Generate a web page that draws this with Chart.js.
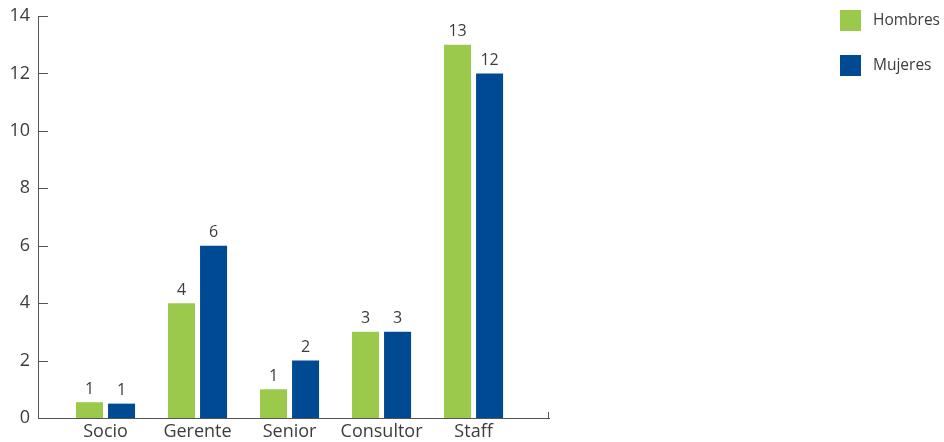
<!DOCTYPE html>
<html>
<head>
<meta charset="utf-8">
<script src="https://cdn.jsdelivr.net/npm/chart.js@4"></script>
<style>
  html, body { margin: 0; padding: 0; background: #fff; }
  #wrap { width: 944px; height: 442px; position: relative; }
</style>
</head>
<body>
<div id="wrap"><canvas id="chart"></canvas></div>
<script>
// --- data ---
const categories = ['Socio', 'Gerente', 'Senior', 'Consultor', 'Staff'];
const seriesNames = ['Hombres', 'Mujeres'];
// bar heights as drawn (Socio bars are drawn short in the original)
const hombresBars = [0.55, 4, 1, 3, 13];
const mujeresBars = [0.5, 6, 2, 3, 12];
// value labels printed above the bars
const hombresLabels = [1, 4, 1, 3, 13];
const mujeresLabels = [1, 6, 2, 3, 12];
const yTicks = [0, 2, 4, 6, 8, 10, 12, 14];

const GREEN = '#9bc94b';
const BLUE = '#004a93';
const TEXT = '#3c3c3c';
const AXIS = '#555555';
const FONT = '"Open Sans", "Noto Sans", sans-serif';

// value labels on top of each bar
const valueLabels = {
    id: 'valueLabels',
    afterDatasetsDraw(chart) {
        const ctx = chart.ctx;
        const texts = [hombresLabels, mujeresLabels];
        ctx.save();
        ctx.font = '16px ' + FONT;
        ctx.fillStyle = TEXT;
        ctx.textAlign = 'center';
        ctx.textBaseline = 'bottom';
        chart.data.datasets.forEach((ds, di) => {
            chart.getDatasetMeta(di).data.forEach((bar, i) => {
                ctx.fillText(String(texts[di][i]), bar.x, bar.y - 5);
            });
        });
        ctx.restore();
    }
};

// small inward ticks on the y axis and the end tick on the x axis
const axisTicks = {
    id: 'axisTicks',
    afterDraw(chart) {
        const ctx = chart.ctx;
        const area = chart.chartArea;
        const y = chart.scales.y;
        ctx.save();
        ctx.strokeStyle = AXIS;
        ctx.lineWidth = 1;
        y.ticks.forEach(t => {
            const py = Math.round(y.getPixelForValue(t.value)) + 0.5;
            ctx.beginPath();
            ctx.moveTo(area.left, py);
            ctx.lineTo(area.left + 10, py);
            ctx.stroke();
        });
        ctx.beginPath();
        ctx.moveTo(area.right - 0.5, area.bottom);
        ctx.lineTo(area.right - 0.5, area.bottom - 6);
        ctx.stroke();
        ctx.restore();
    }
};

// legend in the top right corner
const sideLegend = {
    id: 'sideLegend',
    afterDraw(chart) {
        const ctx = chart.ctx;
        ctx.save();
        ctx.font = '15.5px ' + FONT;
        ctx.textBaseline = 'middle';
        ctx.textAlign = 'left';
        chart.data.datasets.forEach((ds, i) => {
            const top = 10 + i * 45;
            ctx.fillStyle = ds.backgroundColor;
            ctx.fillRect(840, top, 21, 21);
            ctx.fillStyle = TEXT;
            ctx.fillText(ds.label, 873, top + 11);
        });
        ctx.restore();
    }
};

const ctx = document.getElementById('chart').getContext('2d');
new Chart(ctx, {
    type: 'bar',
    data: {
        datasets: [
            {
                label: seriesNames[0],
                data: hombresBars.map((v, i) => ({ x: i, y: v })),
                backgroundColor: GREEN
            },
            {
                label: seriesNames[1],
                data: mujeresBars.map((v, i) => ({ x: i, y: v })),
                backgroundColor: BLUE
            }
        ]
    },
    options: {
        responsive: true,
        maintainAspectRatio: false,
        animation: false,
        layout: { padding: { top: 16, right: 395, left: 0, bottom: 0 } },
        categoryPercentage: 0.696,
        barPercentage: 0.844,
        plugins: {
            legend: { display: false },
            tooltip: { enabled: false }
        },
        scales: {
            x: {
                type: 'linear',
                offset: false,
                min: -0.734,
                max: 4.82,
                grid: { display: false, drawTicks: false },
                border: { display: true, color: AXIS, width: 1 },
                afterBuildTicks: scale => {
                    scale.ticks = categories.map((c, i) => ({ value: i }));
                },
                afterFit: scale => { scale.height = 24; },
                ticks: {
                    autoSkip: false,
                    maxRotation: 0,
                    padding: 3,
                    color: TEXT,
                    font: { family: FONT, size: 18 },
                    callback: value => categories[value] ?? ''
                }
            },
            y: {
                min: 0,
                max: 14,
                grid: { display: false, drawTicks: false },
                border: { display: true, color: AXIS, width: 1 },
                afterBuildTicks: scale => {
                    scale.ticks = yTicks.map(v => ({ value: v }));
                },
                afterFit: scale => {
                    scale.width = 38;
                    scale.paddingTop = 0;
                    scale.paddingBottom = 0;
                },
                ticks: {
                    padding: 8,
                    color: TEXT,
                    font: { family: FONT, size: 18 }
                }
            }
        }
    },
    plugins: [valueLabels, axisTicks, sideLegend]
});
</script>
</body>
</html>
